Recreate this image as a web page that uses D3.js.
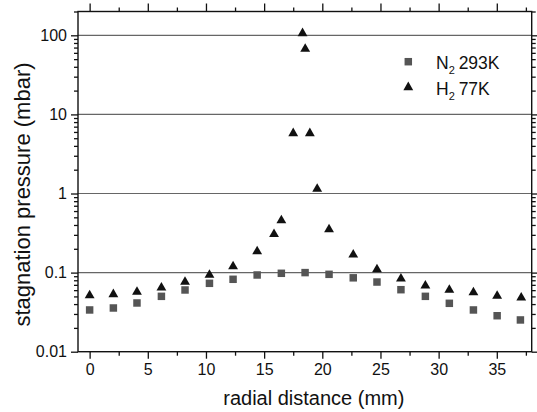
<!DOCTYPE html>
<html>
<head>
<meta charset="utf-8">
<script src="https://cdn.jsdelivr.net/npm/d3@7/dist/d3.min.js"></script>
<style>
  body { margin: 0; background: #fff; }
  svg { display: block; font-family: "Liberation Sans", Arial, sans-serif; }
</style>
</head>
<body>
<svg id="chart" width="537" height="412"></svg>
<script>
// ---- data ----
const n2X = [0, 2.04, 4.07, 6.17, 8.2, 10.3, 12.33, 14.4, 16.48, 18.52, 20.58, 22.66, 24.7, 26.76, 28.86, 30.92, 32.99, 35.03, 37.03];
const n2Y = [0.0337, 0.0357, 0.0413, 0.0501, 0.0603, 0.0732, 0.0823, 0.0933, 0.098, 0.100, 0.0951, 0.0859, 0.076, 0.0608, 0.0501, 0.0409, 0.0337, 0.0285, 0.0252];

const h2X = [0, 2.04, 4.07, 6.17, 8.2, 10.3, 12.33, 14.4, 15.85, 16.48, 17.5, 18.3, 18.53, 18.93, 19.56, 20.58, 22.66, 24.7, 26.76, 28.86, 30.92, 32.99, 35.03, 37.1];
const h2Y = [0.0516, 0.0532, 0.0569, 0.0645, 0.076, 0.0933, 0.1194, 0.185, 0.306, 0.456, 5.77, 106, 67.1, 5.77, 1.14, 0.352, 0.168, 0.110, 0.0837, 0.0683, 0.0603, 0.0563, 0.0506, 0.0482];

const xTicks = [0, 5, 10, 15, 20, 25, 30, 35];
const xMinor = [2.5, 7.5, 12.5, 17.5, 22.5, 27.5, 32.5, 37.5];
const yTicks = [0.01, 0.1, 1, 10, 100];
const yTickLabels = ['0.01', '0.1', '1', '10', '100'];
const legendLabels = [['N', '2', ' 293K'], ['H', '2', ' 77K']];

const svg = d3.select('#chart');
const pLeft = 78, pRight = 531.7, pTop = 11.5, pBottom = 351.7;

const x = d3.scaleLinear().domain([-1, 38]).range([pLeft, pRight]);
const y = d3.scaleLog().domain([0.01, 200]).range([pBottom, pTop]);

// minor log ticks 2..9 per decade
const yMinor = [];
yTicks.forEach(d => {
    for (let k = 2; k <= 9; k++) {
        const v = d * k;
        if (v <= 200) yMinor.push(v);
    }
});

// grid lines at decades
svg.append('g').selectAll('line')
    .data(yTicks.slice(1))
    .join('line')
    .attr('x1', pLeft).attr('x2', pRight)
    .attr('y1', d => y(d)).attr('y2', d => y(d))
    .attr('stroke', '#666').attr('stroke-width', 1.2);

function styleAxis(g) {
    g.select('.domain').remove();
    g.selectAll('.tick line').attr('stroke', '#111').attr('stroke-width', 1.3);
    g.selectAll('.tick text').attr('fill', '#111').attr('font-size', 16);
}

// bottom
svg.append('g').attr('transform', `translate(0,${pBottom})`)
    .call(d3.axisBottom(x).tickValues(xTicks).tickSize(7).tickPadding(5).tickFormat(d3.format('d')))
    .call(styleAxis);
svg.append('g').attr('transform', `translate(0,${pBottom})`)
    .call(d3.axisBottom(x).tickValues(xMinor).tickSize(4).tickFormat(''))
    .call(styleAxis);
// top
svg.append('g').attr('transform', `translate(0,${pTop})`)
    .call(d3.axisTop(x).tickValues(xTicks).tickSize(8).tickFormat(''))
    .call(styleAxis);
svg.append('g').attr('transform', `translate(0,${pTop})`)
    .call(d3.axisTop(x).tickValues(xMinor).tickSize(4).tickFormat(''))
    .call(styleAxis);
// left
svg.append('g').attr('transform', `translate(${pLeft},0)`)
    .call(d3.axisLeft(y).tickValues(yTicks).tickSize(7).tickPadding(4)
        .tickFormat((d, i) => yTickLabels[i]))
    .call(styleAxis);
svg.append('g').attr('transform', `translate(${pLeft},0)`)
    .call(d3.axisLeft(y).tickValues(yMinor).tickSize(4).tickFormat(''))
    .call(styleAxis);
// right
svg.append('g').attr('transform', `translate(${pRight},0)`)
    .call(d3.axisRight(y).tickValues(yTicks).tickSize(7).tickFormat(''))
    .call(styleAxis);
svg.append('g').attr('transform', `translate(${pRight},0)`)
    .call(d3.axisRight(y).tickValues(yMinor).tickSize(4).tickFormat(''))
    .call(styleAxis);

// frame
svg.append('rect')
    .attr('x', pLeft).attr('y', pTop)
    .attr('width', pRight - pLeft).attr('height', pBottom - pTop)
    .attr('fill', 'none').attr('stroke', '#111').attr('stroke-width', 1.4);

// points
const sq = d3.symbol().type(d3.symbolSquare).size(56);
const tri = d3.symbol().type(d3.symbolTriangle).size(42);

svg.append('g').selectAll('path')
    .data(n2X.map((d, i) => [d, n2Y[i]]))
    .join('path')
    .attr('d', sq)
    .attr('transform', d => `translate(${x(d[0])},${y(d[1])})`)
    .attr('fill', '#555');

svg.append('g').selectAll('path')
    .data(h2X.map((d, i) => [d, h2Y[i]]))
    .join('path')
    .attr('d', tri)
    .attr('transform', d => `translate(${x(d[0])},${y(d[1])})`)
    .attr('fill', '#111');

// legend
const legend = svg.append('g');
const legendRows = [
    { cy: 61.7, sym: sq, fill: '#555' },
    { cy: 87.3, sym: tri, fill: '#111' }
];
legendRows.forEach((r, i) => {
    legend.append('path').attr('d', r.sym)
        .attr('transform', `translate(408.3,${r.cy})`).attr('fill', r.fill);
    const t = legend.append('text')
        .attr('x', 436).attr('y', r.cy + 7.5)
        .attr('font-size', 17.5).attr('fill', '#111');
    t.append('tspan').text(legendLabels[i][0]);
    t.append('tspan').attr('font-size', 11).attr('dy', 5).text(legendLabels[i][1]);
    t.append('tspan').attr('dy', -5).attr('dx', -1).text(legendLabels[i][2]);
});

// axis titles
svg.append('text')
    .attr('x', (pLeft + pRight) / 2 + 9).attr('y', 405)
    .attr('text-anchor', 'middle').attr('font-size', 20).attr('fill', '#111')
    .text('radial distance (mm)');

svg.append('text')
    .attr('transform', 'translate(30,194.5) rotate(-90)')
    .attr('text-anchor', 'middle').attr('font-size', 22).attr('fill', '#111')
    .text('stagnation pressure (mbar)');
</script>
</body>
</html>
